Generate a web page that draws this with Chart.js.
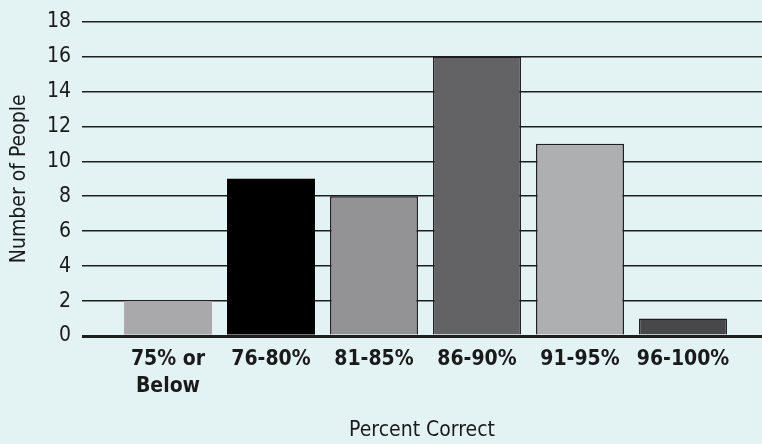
<!DOCTYPE html>
<html lang="en">
<head>
    <meta charset="UTF-8">
    <title>Percent Correct</title>
    <script src="https://cdn.jsdelivr.net/npm/chart.js"></script>
    <style>
        html, body {
            margin: 0;
            padding: 0;
            background: #e3f2f3;
        }
        #wrap {
            width: 762px;
            height: 444px;
        }
    </style>
</head>
<body>
<div id="wrap"><canvas id="scoreChart"></canvas></div>

<script>
    const categories = [['75% or', 'Below'], '76-80%', '81-85%', '86-90%', '91-95%', '96-100%'];
    const counts = [2, 9, 8, 16, 11, 1];
    const yTicks = [0, 2, 4, 6, 8, 10, 12, 14, 16, 18];
    const barColors = ['#a9a9ab', '#000000', '#939395', '#636365', '#aeafb1', '#48484a'];
    const barBorders = [0, 0, 1.5, 1.5, 1.5, 1.5];

    const font = "'DejaVu Sans Condensed', 'Roboto', sans-serif";

    const points = counts.map((v, i) => ({ x: i, y: v }));

    new Chart(document.getElementById('scoreChart'), {
        type: 'bar',
        data: {
            datasets: [{
                data: points,
                backgroundColor: barColors,
                borderColor: '#1e1e1e',
                borderWidth: barBorders,
                borderSkipped: 'bottom',
                barPercentage: 0.854,
                categoryPercentage: 1
            }]
        },
        options: {
            responsive: true,
            maintainAspectRatio: false,
            animation: false,
            layout: { padding: { top: 2, left: 7, right: 0, bottom: 0 } },
            plugins: {
                legend: { display: false },
                tooltip: { enabled: false }
            },
            scales: {
                x: {
                    type: 'linear',
                    offset: false,
                    min: -0.835,
                    max: 5.767,
                    afterBuildTicks: (scale) => {
                        scale.ticks = categories.map((c, i) => ({ value: i }));
                    },
                    afterFit: (scale) => { scale.height = 108; },
                    grid: { display: false },
                    border: { display: false },
                    ticks: {
                        autoSkip: false,
                        maxRotation: 0,
                        padding: 2,
                        color: '#1a1a1a',
                        font: { family: font, size: 21, weight: 'bold', lineHeight: 1.3 },
                        callback: (v) => categories[v]
                    },
                    title: {
                        display: true,
                        text: 'Percent Correct',
                        color: '#1a1a1a',
                        padding: { top: 20, bottom: 1 },
                        font: { family: font, size: 21 }
                    }
                },
                y: {
                    min: 0,
                    max: 18,
                    afterBuildTicks: (scale) => {
                        scale.ticks = yTicks.map(v => ({ value: v }));
                    },
                    afterFit: (scale) => { scale.width = 75; },
                    grid: {
                        color: '#1e1e1e',
                        lineWidth: (ctx) => ctx.tick && ctx.tick.value === 0 ? 3 : 1.5,
                        drawTicks: false
                    },
                    border: { display: false },
                    ticks: {
                        padding: 11,
                        color: '#1a1a1a',
                        font: { family: font, size: 21, lineHeight: 1.0 }
                    },
                    title: {
                        display: true,
                        text: 'Number of People',
                        color: '#1a1a1a',
                        padding: { top: 0, bottom: 8 },
                        font: { family: font, size: 21 }
                    }
                }
            }
        }
    });
</script>
</body>
</html>
